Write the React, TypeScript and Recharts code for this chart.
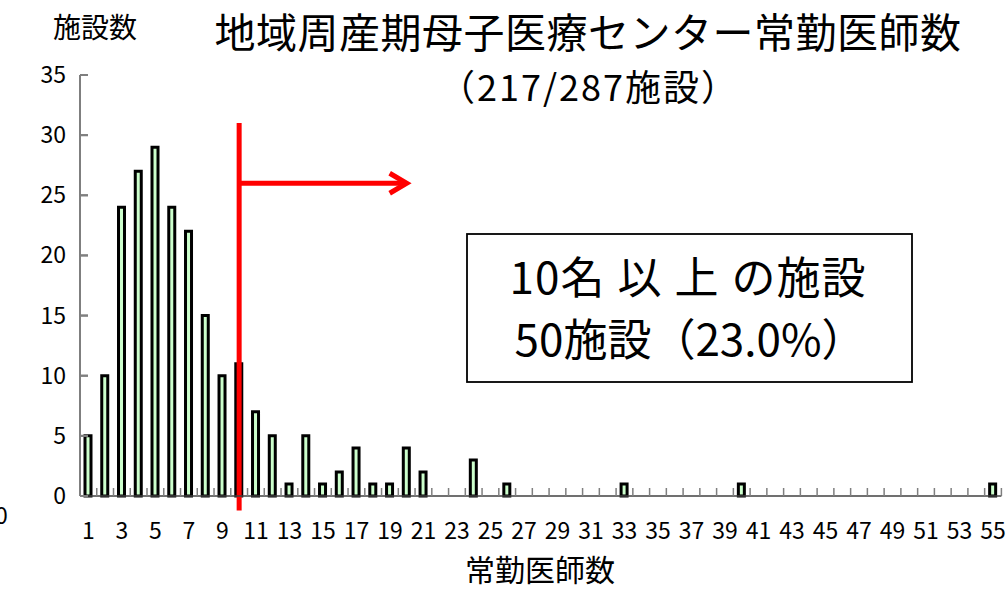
import React from 'react';
import { BarChart, Bar, XAxis, YAxis, ReferenceLine } from 'recharts';

const categories = [
  1, 2, 3, 4, 5, 6, 7, 8, 9, 10, 11, 12, 13, 14, 15, 16, 17, 18, 19, 20,
  21, 22, 23, 24, 25, 26, 27, 28, 29, 30, 31, 32, 33, 34, 35, 36, 37, 38, 39, 40,
  41, 42, 43, 44, 45, 46, 47, 48, 49, 50, 51, 52, 53, 54, 55,
];
const facilityCounts = [
  5, 10, 24, 27, 29, 24, 22, 15, 10, 11, 7, 5, 1, 5, 1, 2, 4, 1, 1, 4,
  2, 0, 0, 3, 0, 1, 0, 0, 0, 0, 0, 0, 1, 0, 0, 0, 0, 0, 0, 1,
  0, 0, 0, 0, 0, 0, 0, 0, 0, 0, 0, 0, 0, 0, 1,
];
const xTickLabels = [
  1, 3, 5, 7, 9, 11, 13, 15, 17, 19, 21, 23, 25, 27, 29, 31, 33, 35, 37, 39,
  41, 43, 45, 47, 49, 51, 53, 55,
];
const yTicks = [0, 5, 10, 15, 20, 25, 30, 35];
const thresholdLine = [{ x: 10, y: 31 }, { x: 10, y: -1.2 }];
const arrowLine = [{ x: 10, y: 26 }, { x: 20, y: 26 }];

const title = '地域周産期母子医療センター常勤医師数';
const subtitle = '（217/287施設）';
const yLabel = '施設数';
const xLabel = '常勤医師数';
const boxLine1Parts = ['10名', '以', '上', 'の施設'];
const boxLine2 = '50施設（23.0%）';

const data = categories.map((c, i) => ({ n: c, count: facilityCounts[i] }));

const FONT = '"Noto Sans CJK JP", "Noto Sans", sans-serif';
const TICK_SIZE = 6;
const X_MARGIN = 20;
const Y_MARGIN = 8;
const MARK = 8;

const XTick = (p: any) => {
  const { x, y, payload, index } = p;
  const axisY = y - TICK_SIZE - X_MARGIN;
  const half = payload && payload.offset ? payload.offset : 0;
  const c = payload.coordinate;
  const v = Number(payload.value);
  return (
    <g>
      {index === 0 && half > 0 ? (
        <line x1={c - half} x2={c - half} y1={axisY} y2={axisY - MARK} stroke="#7f7f7f" strokeWidth={1.5} />
      ) : null}
      {half > 0 ? (
        <line x1={c + half} x2={c + half} y1={axisY} y2={axisY - MARK} stroke="#7f7f7f" strokeWidth={1.5} />
      ) : null}
      {xTickLabels.includes(v) ? (
        <text x={x} y={y} dy="0.75em" textAnchor="middle" fontSize={23} fontFamily={FONT} fill="#000">
          {v}
        </text>
      ) : null}
    </g>
  );
};

const renderYTick = (p: any) => {
  const x = Number(p.x);
  const y = Number(p.y);
  const axisX = x + TICK_SIZE + Y_MARGIN;
  return (
    <g key={`ytick-${p.payload.value}`}>
      <line x1={axisX} x2={axisX + MARK} y1={y} y2={y} stroke="#7f7f7f" strokeWidth={2} />
      <text x={x} y={y} dy="0.35em" textAnchor="end" fontSize={23} fontFamily={FONT} fill="#000">
        {p.payload.value}
      </text>
    </g>
  );
};

const YTickMark = (p: any) => {
  const left = Math.min(Number(p.x1), Number(p.x2));
  const yy = Number(p.y1);
  return <line x1={left} x2={left + MARK} y1={yy} y2={yy} stroke="#7f7f7f" strokeWidth={2} />;
};

const ArrowShape = (p: any) => {
  const { x1, y1, x2, y2 } = p;
  return (
    <g>
      <line x1={x1} y1={y1} x2={x2 - 3} y2={y2} stroke="#ff0000" strokeWidth={5} />
      <polyline
        points={`${x2 - 17},${y2 - 10} ${x2},${y2} ${x2 - 17},${y2 + 10}`}
        fill="none"
        stroke="#ff0000"
        strokeWidth={5}
      />
    </g>
  );
};

export default function App() {
  return (
    <div style={{ position: 'absolute', left: 0, top: 0, width: 1007, height: 589, background: '#fff' }}>
      <BarChart
        width={1007}
        height={589}
        data={data}
        margin={{ top: 75, right: 5.6, bottom: 63, left: 0 }}
        barCategoryGap={0}
      >
        <XAxis
          dataKey="n"
          height={30}
          interval={0}
          tickLine={false}
          tickSize={TICK_SIZE}
          tickMargin={X_MARGIN}
          tick={<XTick />}
          axisLine={{ stroke: '#404040', strokeWidth: 1.5 }}
        />
        <YAxis
          width={80}
          domain={[0, 35]}
          ticks={yTicks}
          interval={0}
          tickLine={false}
          tickSize={TICK_SIZE}
          tickMargin={Y_MARGIN}
          tick={renderYTick}
          axisLine={{ stroke: '#7f7f7f', strokeWidth: 2 }}
        />
        {yTicks.map((v) => (
          <ReferenceLine key={`yt${v}`} y={v} shape={YTickMark} ifOverflow="visible" />
        ))}
        <Bar
          dataKey="count"
          fill="#ccffcc"
          stroke="#000"
          strokeWidth={3}
          barSize={6}
          isAnimationActive={false}
        />
        <ReferenceLine segment={thresholdLine} stroke="#ff0000" strokeWidth={5} ifOverflow="visible" />
        <ReferenceLine segment={arrowLine} ifOverflow="visible" shape={ArrowShape} />
      </BarChart>
      <svg
        width={1007}
        height={589}
        style={{ position: 'absolute', left: 0, top: 0, pointerEvents: 'none' }}
        fontFamily={FONT}
      >
        <text x={95} y={38} fontSize={28} textAnchor="middle" fill="#000">{yLabel}</text>
        <text x={588} y={48} fontSize={41} letterSpacing={0.5} textAnchor="middle" fill="#000">{title}</text>
        <text x={589} y={101} fontSize={36} letterSpacing={2} textAnchor="middle" fill="#000">{subtitle}</text>
        <text x={540} y={581} fontSize={30} textAnchor="middle" fill="#000">{xLabel}</text>
        <text x={-5} y={524} fontSize={23} fill="#000">0</text>
        <rect x={467} y={234} width={445} height={148} fill="#fff" stroke="#000" strokeWidth={1.8} />
        <text x={688} y={294} fontSize={44} letterSpacing={1} textAnchor="middle" fill="#000">
          <tspan>{boxLine1Parts[0]}</tspan>
          <tspan dx={12}>{boxLine1Parts[1]}</tspan>
          <tspan dx={12}>{boxLine1Parts[2]}</tspan>
          <tspan dx={12}>{boxLine1Parts[3]}</tspan>
        </text>
        <text x={690} y={356} fontSize={44} textAnchor="middle" fill="#000">{boxLine2}</text>
      </svg>
    </div>
  );
}
